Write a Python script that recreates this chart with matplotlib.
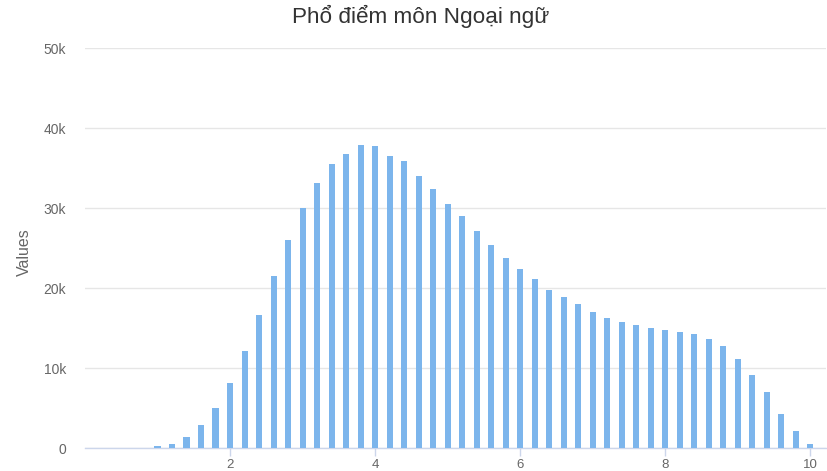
import matplotlib
matplotlib.use("Agg")
import matplotlib.pyplot as plt
import numpy as np

plt.rcParams['font.family'] = ['Liberation Sans', 'DejaVu Sans']

# score bins (0.2 step) and number of candidates
scores = [round(0.2 * i, 1) for i in range(51)]
counts = [0, 2, 5, 15, 60,
          210, 550, 1340, 2840, 5050,
          8170, 12090, 16630, 21460, 25960,
          30050, 33170, 35500, 36750, 37840,
          37710, 36460, 35840, 33960, 32380,
          30500, 28960, 27090, 25340, 23800,
          22420, 21120, 19710, 18920, 18000,
          17050, 16300, 15800, 15340, 15050,
          14710, 14550, 14250, 13630, 12710,
          11130, 9090, 6960, 4250, 2090,
          500]
y_ticks = [0, 10000, 20000, 30000, 40000, 50000]
y_labels = ['0', '10k', '20k', '30k', '40k', '50k']
x_ticks = [2, 4, 6, 8, 10]

fig = plt.figure(figsize=(8.27, 4.71), dpi=100)
ax = fig.add_axes([85 / 827, 23 / 471, 741 / 827, 400 / 471])

ax.bar(scores, counts, width=0.083, color='#7cb5ec', zorder=3)

ax.set_xlim(0, 10.22)
ax.set_ylim(0, 50000)
ax.set_yticks(y_ticks)
ax.set_yticklabels(y_labels)
ax.set_xticks(x_ticks)
ax.set_xticklabels([str(t) for t in x_ticks])

ax.grid(axis='y', color='#e6e6e6', linewidth=1, zorder=0)
for s in ['top', 'right', 'left']:
    ax.spines[s].set_visible(False)
ax.spines['bottom'].set_color('#ccd6eb')
ax.spines['bottom'].set_linewidth(1)

ax.tick_params(axis='y', length=0, pad=13.5, labelsize=10, labelcolor='#666666')
ax.tick_params(axis='x', length=6, width=1, color='#ccd6eb', pad=2,
               labelsize=9.5, labelcolor='#666666')

fig.text(24 / 827, 0.465, 'Values', rotation=90, ha='center', va='center',
         fontsize=11.5, color='#666666')
fig.text(0.5085, 0.966, 'Phổ điểm môn Ngoại ngữ', ha='center', va='center',
         fontsize=16.2, color='#333333')

fig.savefig('out.png', dpi=100, facecolor='white')
